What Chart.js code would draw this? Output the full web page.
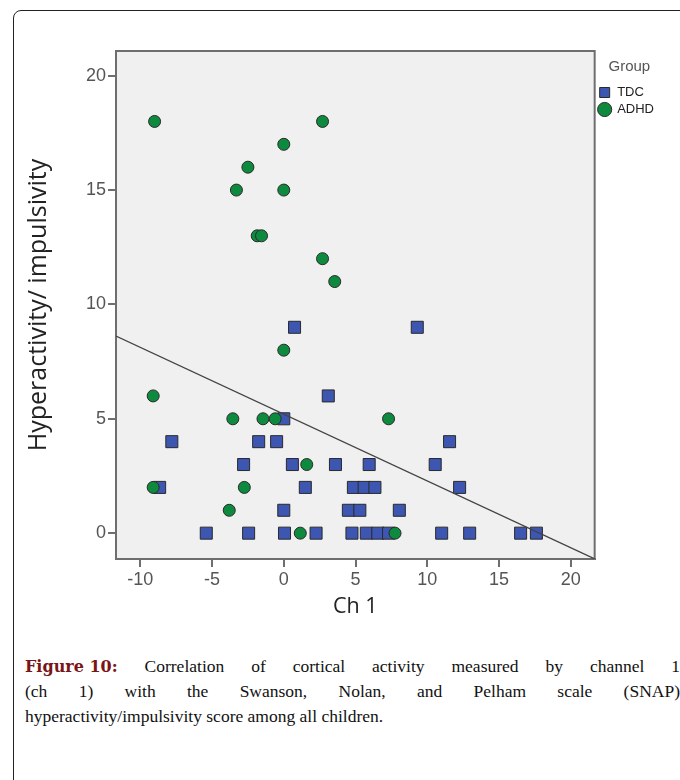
<!DOCTYPE html>
<html>
<head>
<meta charset="utf-8">
<script src="https://cdn.jsdelivr.net/npm/chart.js@4"></script>
<style>
  body { margin: 0; background: #fff; width: 680px; height: 780px; overflow: hidden; position: relative; }
  #frame { position: absolute; left: 13px; top: 10px; width: 700px; height: 800px;
           border: 1.5px solid #222; border-top-left-radius: 8px; box-sizing: border-box; }
  #wrap { position: absolute; left: 0; top: 0; width: 680px; height: 640px; }
  #caption { position: absolute; left: 25px; top: 654px; width: 655px;
             font-family: "Liberation Serif", serif; font-size: 17.5px; line-height: 25px; color: #111; }
  #caption div { text-align: justify; text-align-last: justify; }
  #caption div.last { text-align-last: left; }
  #caption b { color: #7b1416; display: inline-block; font-family: "DejaVu Serif", serif; font-size: 16px; }
</style>
</head>
<body>
<div id="frame"></div>
<div id="wrap"><canvas id="scatter"></canvas></div>
<div id="caption">
  <div><b>Figure 10:</b> Correlation of cortical activity measured by channel 1</div>
  <div>(ch 1) with the Swanson, Nolan, and Pelham scale (SNAP)</div>
  <div class="last">hyperactivity/impulsivity score among all children.</div>
</div>
<script>
/*_____________________DATA____________________*/

const tdc_x = [0.75, 9.3, 3.1, 0, -7.8, -1.75, -0.5, 11.55, -2.8, 0.6, 3.6, 5.95, 10.55,
               -8.65, 1.5, 4.85, 5.6, 6.35, 12.25, 0, 4.5, 5.3, 8.05,
               -5.4, -2.45, 0.05, 2.25, 4.75, 5.75, 6.55, 7.3, 11.0, 12.95, 16.5, 17.6];
const tdc_y = [9, 9, 6, 5, 4, 4, 4, 4, 3, 3, 3, 3, 3,
               2, 2, 2, 2, 2, 2, 1, 1, 1, 1,
               0, 0, 0, 0, 0, 0, 0, 0, 0, 0, 0, 0];

const adhd_x = [-9, 2.7, 0, -2.5, -3.3, 0, -1.85, -1.55, 2.7, 3.55, 0, -9.1,
                -3.55, -1.45, -0.6, 7.3, 1.6, -9.1, -2.75, -3.8, 1.15, 7.75];
const adhd_y = [18, 18, 17, 16, 15, 15, 13, 13, 12, 11, 8, 6,
                5, 5, 5, 5, 3, 2, 2, 1, 0, 0];

// fit line (total sample)
const fit_slope = -0.292;
const fit_intercept = 5.2;

const x_min = -11.69, x_max = 21.66;
const y_min = -1.13, y_max = 21.08;

const pairs = (xs, ys) => xs.map((v, i) => ({x: v, y: ys[i]}));
const fit_pts = [x_min, x_max].map(v => ({x: v, y: fit_intercept + fit_slope * v}));

/*_____________________PLOT_BOX____________________*/

const plotBox = {
  id: 'plotBox',
  beforeDatasetsDraw(chart) {
    const {ctx, chartArea: a} = chart;
    ctx.save();
    ctx.fillStyle = '#f0f0f0';
    ctx.fillRect(a.left, a.top, a.width, a.height);
    ctx.strokeStyle = '#6e6e6e';
    ctx.lineWidth = 2;
    ctx.strokeRect(a.left, a.top, a.width, a.height);
    ctx.restore();
  }
};

const tickFont = {family: 'Liberation Sans, Arial, sans-serif', size: 18};

new Chart(document.getElementById('scatter'), {
  type: 'scatter',
  data: {
    datasets: [
      {
        label: 'TDC',
        data: pairs(tdc_x, tdc_y),
        pointStyle: 'rect',
        pointRadius: 8.5,
        pointHoverRadius: 8.5,
        backgroundColor: '#3d56b2',
        borderColor: '#2a2a2a',
        borderWidth: 1,
        order: 3
      },
      {
        label: 'ADHD',
        data: pairs(adhd_x, adhd_y),
        pointStyle: 'circle',
        pointRadius: 6,
        pointHoverRadius: 6,
        backgroundColor: '#0e8a3e',
        borderColor: '#2a2a2a',
        borderWidth: 1,
        order: 2
      },
      {
        type: 'line',
        label: 'fit',
        data: fit_pts,
        borderColor: '#444',
        borderWidth: 1.3,
        pointRadius: 0,
        fill: false,
        order: 1
      }
    ]
  },
  options: {
    responsive: true,
    maintainAspectRatio: false,
    animation: false,
    layout: {padding: {top: 51, right: 16, left: 0, bottom: 0}},
    plugins: {
      tooltip: {enabled: false},
      legend: {
        position: 'right',
        align: 'start',
        title: {
          display: true,
          text: 'Group',
          color: '#555',
          font: {family: 'Liberation Sans, Arial, sans-serif', size: 15},
          padding: {top: 8, bottom: 5}
        },
        labels: {
          usePointStyle: true,
          boxHeight: 10,
          boxWidth: 12,
          padding: 4,
          color: '#222',
          font: {family: 'Liberation Sans Narrow, Liberation Sans, sans-serif', size: 13},
          filter: item => item.text !== 'fit',
          sort: (a, b) => a.datasetIndex - b.datasetIndex
        }
      }
    },
    scales: {
      x: {
        type: 'linear',
        min: x_min,
        max: x_max,
        afterFit: s => { s.height = 81; },
        ticks: {stepSize: 5, includeBounds: false, color: '#555', font: tickFont, padding: 2},
        grid: {drawOnChartArea: false, drawTicks: true, tickLength: 8, color: '#6e6e6e', lineWidth: 2},
        border: {display: true, color: '#6e6e6e', width: 2},
        title: {display: true, text: 'Ch 1', color: '#222',
                font: {family: 'Open Sans, sans-serif', size: 21.5}, padding: {bottom: 20}}
      },
      y: {
        type: 'linear',
        min: y_min,
        max: y_max,
        afterFit: s => { s.width = 116; },
        ticks: {stepSize: 5, includeBounds: false, color: '#555', font: tickFont, padding: 2},
        grid: {drawOnChartArea: false, drawTicks: true, tickLength: 8, color: '#6e6e6e', lineWidth: 2},
        border: {display: true, color: '#6e6e6e', width: 2},
        title: {display: true, text: 'Hyperactivity/ impulsivity', color: '#222',
                font: {family: 'Open Sans, sans-serif', size: 25}, padding: {top: 24}}
      }
    }
  },
  plugins: [plotBox]
});
</script>
</body>
</html>
